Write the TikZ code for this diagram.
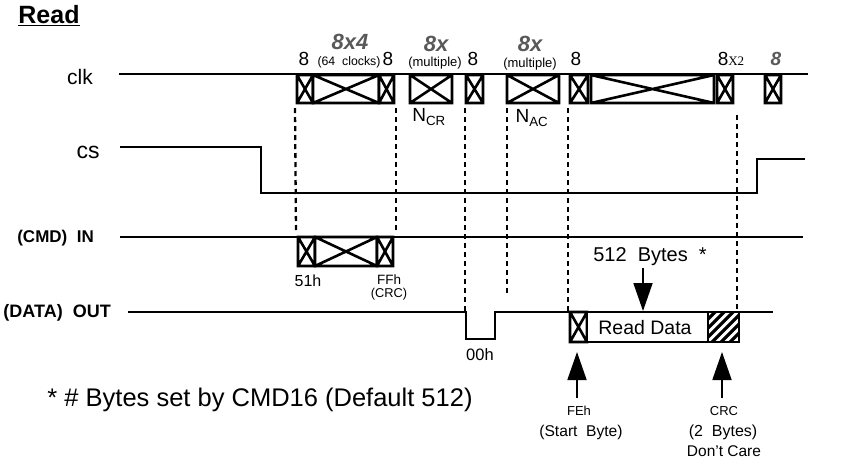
\documentclass[tikz,border=0pt]{standalone}
\usepackage{fontspec}
\setmainfont{Liberation Sans}
\setsansfont{Liberation Sans}
\newfontfamily\serifx{Liberation Serif}
\usetikzlibrary{arrows.meta}
\newcommand{\fs}[1]{\fontsize{#1}{#1}\selectfont}

\begin{document}
\begin{tikzpicture}[x=1pt,y=-1pt,
    sig/.style={line width=1.7pt},
    xbox/.style={line width=2.6pt},
    dashv/.style={line width=2.3pt, dash pattern=on 5pt off 4pt},
    bigarrow/.style={line width=1.8pt, -{Triangle[width=19pt,length=28pt]}},
    lbl/.style={inner sep=0pt}]
  \useasboundingbox (0,0) rectangle (849,467);
  % title and signal names
  \node[lbl, font=\fs{25}\bfseries] (title) at (49,16) {\underline{Read}};
  \node[lbl, font=\fs{21}] (clk) at (80,77) {clk};
  \node[lbl, font=\fs{23}] (cs) at (88,152) {cs};
  \node[lbl, font=\fs{17}\bfseries, anchor=east] (cmdin) at (94,238) {(CMD)\ \ IN};
  \node[lbl, font=\fs{18}\bfseries, anchor=east] (dataout) at (111,313) {(DATA)\ \ OUT};
  % signal lines
  \draw[sig] (119,74) -- (808,74);
  \draw[sig] (120,147) -- (261,147) -- (261,193) -- (757,193) -- (757,159) -- (805,159);
  \draw[sig] (120,237) -- (803,237);
  \draw[sig] (128,312) -- (466,312) -- (466,339) -- (495,339) -- (495,312) -- (773,312);
  % clock bursts
  \foreach \a/\b in {297/313, 313/379, 379/394, 410/452, 466/483, 507/559, 570/588, 591/714, 717/733, 765/781}
    \draw[xbox, fill=white] (\a,75) rectangle (\b,103) (\a,75) -- (\b,103) (\a,103) -- (\b,75);
  % command bytes
  \foreach \a/\b in {298/315, 315/377, 377/393}
    \draw[xbox, fill=white] (\a,237) rectangle (\b,266) (\a,237) -- (\b,266) (\a,266) -- (\b,237);
  % data out
  \draw[xbox, fill=white] (570,312) rectangle (587,342) (570,312) -- (587,342) (570,342) -- (587,312);
  \draw[xbox, fill=white] (587,312) rectangle (708,342);
  \node[lbl, font=\fs{19.5}] (rdata) at (645,328) {Read Data};
  \begin{scope}
    \clip (708,312) rectangle (739,342);
    \foreach \x in {668,677,...,740}
      \draw[line width=3.2pt] (\x,350) -- ++(45,-45);
  \end{scope}
  \draw[xbox] (708,312) rectangle (739,342);
  % dashed guides
  \draw[dashv] (295,108) -- (296,232);
  \draw[dashv] (396,108) -- (396,232);
  \draw[dashv] (465,108) -- (465,311);
  \draw[dashv] (507,108) -- (507,296);
  \draw[dashv] (568,108) -- (568,311);
  \draw[dashv] (737,115) -- (737,311);
  % clock counts
  \node[lbl, font=\fs{19}] (c1) at (304,59) {8};
  \node[lbl, font=\fs{22}\bfseries\itshape, text=black!65] (c2) at (350,42) {8x4};
  \node[lbl, font=\fs{12.3}] (c3) at (349,62) {(64\ \ clocks)};
  \node[lbl, font=\fs{19}] (c4) at (388,59) {8};
  \node[lbl, font=\fs{22}\bfseries\itshape, text=black!65] (c5) at (436,44) {8x};
  \node[lbl, font=\fs{13}] (c6) at (435,63) {(multiple)};
  \node[lbl, font=\fs{19}] (c7) at (473,59) {8};
  \node[lbl, font=\fs{22}\bfseries\itshape, text=black!65] (c8) at (530,44) {8x};
  \node[lbl, font=\fs{13}] (c9) at (530,64) {(multiple)};
  \node[lbl, font=\fs{19}] (c10) at (576,59) {8};
  \node[lbl, font=\fs{19}] (c11) at (731,59) {8{\serifx\fs{13}X2}};
  \node[lbl, font=\fs{19}\bfseries\itshape, text=black!65] (c12) at (776,59) {8};
  \node[lbl, font=\fs{19}] (ncr) at (429,117) {N\textsubscript{CR}};
  \node[lbl, font=\fs{19}] (nac) at (532,118) {N\textsubscript{AC}};
  % byte labels
  \node[lbl, font=\fs{16}] (b51) at (308,281) {51h};
  \node[lbl, font=\fs{13.5}] (bff) at (389,280) {FFh};
  \node[lbl, font=\fs{12.8}] (bcrc) at (389,294) {(CRC)};
  \node[lbl, font=\fs{16.5}] (b00) at (480,355) {00h};
  \node[lbl, font=\fs{20}] (n512) at (650,257) {512\ \ Bytes\ \ *};
  \draw[bigarrow] (643,268) -- (643,311);
  \draw[bigarrow] (577,398) -- (577,352);
  \draw[bigarrow] (722,398) -- (722,352);
  \node[lbl, font=\fs{13}] (fe) at (579,411) {FEh};
  \node[lbl, font=\fs{15.6}] (fe2) at (581,432) {(Start\ \ Byte)};
  \node[lbl, font=\fs{13}] (crc) at (724,411) {CRC};
  \node[lbl, font=\fs{16}] (crc2) at (723,432) {(2\ \ Bytes)};
  \node[lbl, font=\fs{15.5}] (crc3) at (724,451) {Don't Care};
  % footnote
  \node[lbl, font=\fs{25.5}] (note) at (260,400) {* \# Bytes set by CMD16 (Default 512)};
\end{tikzpicture}
\end{document}
